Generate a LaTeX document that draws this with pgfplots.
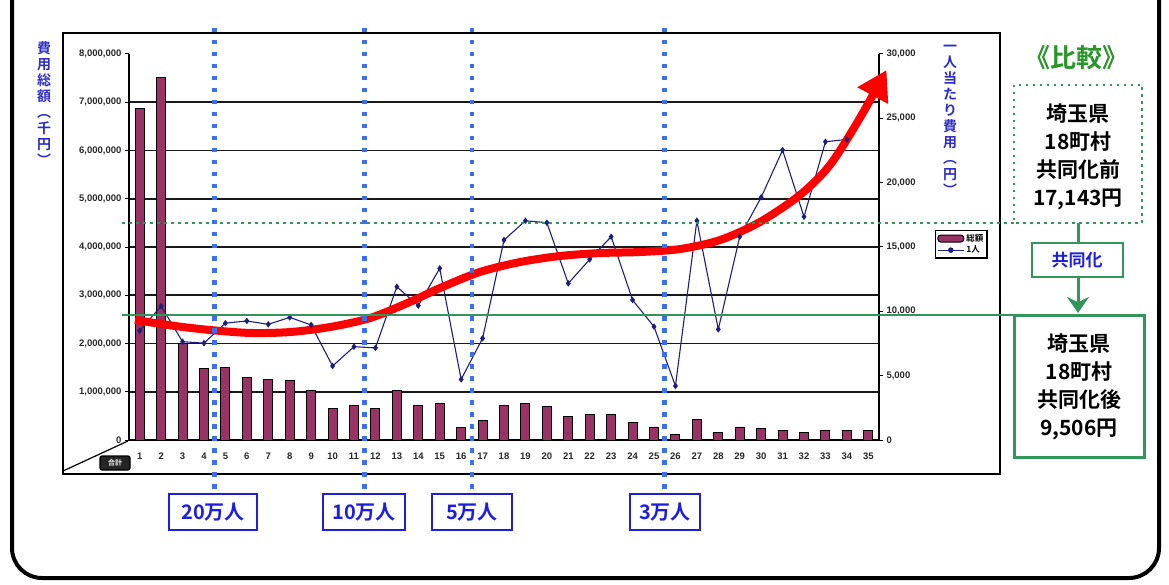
\documentclass[border=0pt]{standalone}
\usepackage{fontspec}
\setmainfont{Liberation Sans}
\newfontfamily\jp[BoldFont={Noto Sans CJK JP Bold}]{Noto Sans CJK JP}
\usepackage{pgfplots}
\pgfplotsset{compat=1.18}
\usetikzlibrary{arrows.meta}
\definecolor{plum}{RGB}{153,51,102}
\definecolor{navyline}{RGB}{30,30,125}
\definecolor{dotblue}{RGB}{60,110,240}
\definecolor{boxblue}{RGB}{30,30,225}
\definecolor{lblue}{RGB}{45,45,205}
\definecolor{gline}{RGB}{50,150,90}
\definecolor{gtitle}{RGB}{40,150,40}

\begin{document}
\begin{tikzpicture}
\useasboundingbox (0pt,0pt) rectangle (1169pt,-585pt);
\begin{scope}[x=1pt,y=-1pt]
 \draw[line width=4pt, rounded corners=30pt] (12,-40) rectangle (1159,578);
 \draw[line width=1.8pt] (63,33) rectangle (1000,474);
 \draw[line width=1.2pt] (63,471) -- (128,441);
 \node[draw=black, fill=black!85, rounded corners=2pt, line width=1.2pt, minimum width=30pt, minimum height=14pt, inner sep=0pt, text=white, font=\jp\bfseries\fontsize{7}{8}\selectfont] at (115,463) {合計};
 % vertical axis titles
 \node[align=center, inner sep=0pt, text=lblue, font=\jp\bfseries\fontsize{14}{16}\selectfont] at (44,104) {費\\用\\総\\額\\︵\\千\\円\\︶};
 \node[align=center, inner sep=0pt, text=lblue, font=\jp\bfseries\fontsize{14}{16}\selectfont] at (950,120) {一\\人\\当\\た\\り\\費\\用\\︵\\円\\︶};
\end{scope}

\begin{axis}[
  at={(129pt,-440pt)}, anchor=south west,
  scale only axis, width=750pt, height=386pt,
  xmin=0.5, xmax=35.5, ymin=0, ymax=8000000,
  axis x line*=bottom, axis y line*=left,
  axis line style={-, line width=1.6pt, black},
  ybar, bar width=9pt,
  xtick={1,...,35},
  xtick style={draw=none},
  ytick={0,1000000,...,7000000},
  extra y ticks={8000000},
  extra y tick style={grid=none},
  ymajorgrids, major grid style={black!90, line width=1.7pt},
  tick align=outside, major tick length=4pt,
  ytick style={black, line width=1pt},
  scaled y ticks=false,
  tick label style={font=\bfseries\fontsize{9.5}{10}\selectfont, text=black!85},
  xticklabel style={/pgf/number format/assume math mode=true, yshift=-5pt},
  yticklabel style={/pgf/number format/.cd, fixed, 1000 sep={,}, assume math mode=true},
]
\addplot[fill=plum, draw=black, line width=0.9pt] coordinates {
(1,6880000) (2,7520000) (3,2010000) (4,1490000) (5,1510000)
(6,1300000) (7,1260000) (8,1230000) (9,1020000) (10,660000)
(11,710000) (12,660000) (13,1020000) (14,710000) (15,760000)
(16,250000) (17,400000) (18,710000) (19,760000) (20,690000)
(21,480000) (22,520000) (23,520000) (24,360000) (25,270000)
(26,120000) (27,430000) (28,160000) (29,270000) (30,230000)
(31,190000) (32,150000) (33,190000) (34,190000) (35,190000)};
\end{axis}

\begin{axis}[
  at={(129pt,-440pt)}, anchor=south west,
  scale only axis, width=750pt, height=386pt,
  xmin=0.5, xmax=35.5, ymin=0, ymax=30000,
  axis y line*=right, axis x line=none,
  axis line style={-, line width=1.6pt, black},
  ytick={0,5000,...,30000},
  tick align=outside, major tick length=4pt,
  ytick style={black, line width=1pt},
  scaled y ticks=false,
  tick label style={font=\bfseries\fontsize{9.5}{10}\selectfont, text=black!85},
  yticklabel style={/pgf/number format/.cd, fixed, 1000 sep={,}, assume math mode=true},
  clip=false,
  legend style={at={(1.0747,0.544)}, anchor=north west, draw=black, line width=1.3pt,
    fill=white, inner sep=1.5pt, font=\jp\bfseries\fontsize{8.5}{9.5}\selectfont, row sep=-1pt},
  legend cell align=left,
]
\addlegendimage{legend image code/.code={\draw[fill=plum,draw=black,rounded corners=3pt,line width=1pt] (0pt,-3.5pt) rectangle (26pt,3.5pt);}}
\addlegendentry{総額}
\addplot[navyline, line width=1.1pt, mark=diamond*, mark size=2.4pt,
  legend image code/.code={\draw[navyline,line width=1.2pt] (0pt,0pt)--(26pt,0pt); \fill[navyline] (13pt,0pt) circle (2.2pt);}] coordinates {
(1,8490) (2,10410) (3,7640) (4,7530) (5,9080) (6,9250) (7,8990) (8,9530)
(9,8940) (10,5750) (11,7250) (12,7160) (13,11910) (14,10440) (15,13340)
(16,4710) (17,7900) (18,15540) (19,17040) (20,16890) (21,12170) (22,14040)
(23,15800) (24,10880) (25,8810) (26,4200) (27,17040) (28,8600) (29,15800)
(30,18860) (31,22530) (32,17350) (33,23180) (34,23360)};
\addlegendentry{1人}
\addplot[red, line width=8pt, smooth, forget plot, -{Triangle[length=29pt,width=33pt]}] coordinates {
(0.78,9330) (2.65,8860) (4.28,8550) (6.15,8320) (8.01,8390) (9.88,8780)
(11.75,9480) (13.61,10730) (15.01,11810) (16.88,13060) (18.75,13830)
(20.61,14300) (22.48,14530) (24.35,14610) (26.21,14840) (28.08,15540)
(29.94,16940) (31.81,19040) (33.21,21370) (34.61,25030) (35.85,28750)};
\end{axis}

\begin{scope}[x=1pt,y=-1pt]
 % green reference lines
 \draw[gline, line width=2.5pt, dash pattern=on 2.5pt off 4.5pt] (122,223) -- (1014,223);
 \draw[gline, line width=2pt] (122,315) -- (1014,315);
 % right-side comparison
 \node[text=gtitle, inner sep=0pt, font=\jp\bfseries\fontsize{26}{28}\selectfont] at (1076,58) {《比較》};
 \draw[gline, line width=2.5pt, dash pattern=on 2.5pt off 4.5pt] (1014,85) rectangle (1142,223);
 \node[align=center, inner sep=0pt, font=\jp\bfseries\fontsize{21}{28}\selectfont] at (1078,157) {埼玉県\\18町村\\共同化前\\17,143円};
 \draw[gline, line width=3pt, -{Stealth[length=16pt,width=22pt]}] (1078,223) -- (1078,313);
 \node[draw=gline, line width=2pt, fill=white, minimum width=91pt, minimum height=33pt, inner sep=0pt, text=boxblue, font=\jp\bfseries\fontsize{17}{18}\selectfont] at (1077,260) {共同化};
 \draw[gline, line width=3pt] (1014,315) rectangle (1144,457);
 \node[align=center, inner sep=0pt, font=\jp\bfseries\fontsize{21}{28}\selectfont] at (1079,387) {埼玉県\\18町村\\共同化後\\9,506円};
 % population markers
 \foreach \x in {214.7,364.7,471.9,664.7}
   \draw[dotblue, line width=4.5pt, dash pattern=on 4.5pt off 7.5pt] (\x,28) -- (\x,494);
 \tikzset{pop/.style={draw=boxblue, line width=2.8pt, fill=white, minimum height=36pt, inner sep=0pt, text=boxblue, font=\jp\bfseries\fontsize{20}{22}\selectfont}}
 \node[pop, minimum width=88pt] at (213,512) {20万人};
 \node[pop, minimum width=82pt] at (364,512) {10万人};
 \node[pop, minimum width=80pt] at (472,512) {5万人};
 \node[pop, minimum width=70pt] at (665,512) {3万人};
\end{scope}
\end{tikzpicture}
\end{document}
